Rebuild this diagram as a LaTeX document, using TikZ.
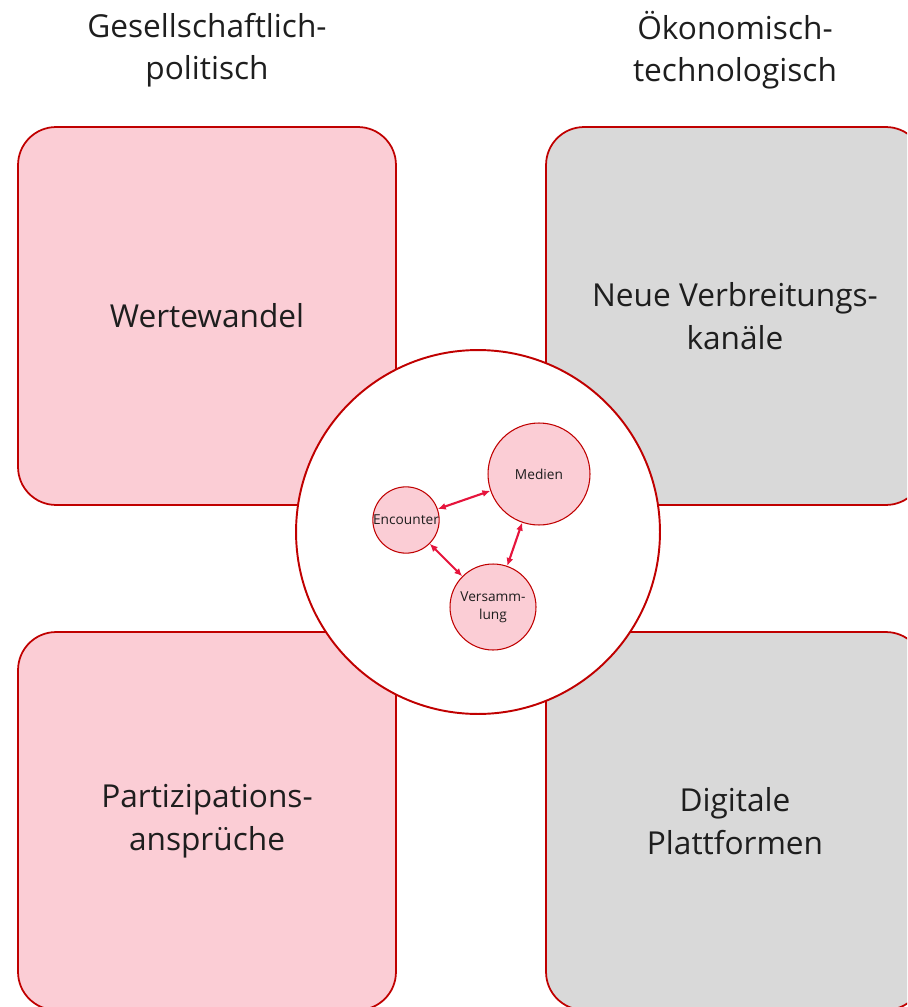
\documentclass[tikz,border=0pt]{standalone}
\usepackage{fontspec}
\setmainfont{Open Sans}
\usetikzlibrary{arrows.meta}

\definecolor{boxred}{RGB}{192,0,0}
\definecolor{boxpink}{RGB}{251,205,213}
\definecolor{boxgray}{RGB}{217,217,217}
\definecolor{arrowred}{RGB}{230,20,60}
\definecolor{txtgray}{RGB}{30,30,30}

\tikzset{
  field/.style={draw=boxred, line width=1pt, rounded corners=0.76cm,
    minimum width=7.56cm, minimum height=7.56cm, align=center,
    text=txtgray, font=\fontsize{18}{24.5}\selectfont},
  pinkfield/.style={field, fill=boxpink},
  grayfield/.style={field, fill=boxgray},
  heading/.style={align=center, text=txtgray, font=\fontsize{18}{24}\selectfont},
  topic/.style={circle, draw=boxred, fill=boxpink, line width=0.6pt,
    inner sep=0pt, align=center, text=txtgray,
    font=\fontsize{7.8}{10.5}\selectfont},
  link/.style={arrows={Latex[length=4.5pt,width=4pt]-Latex[length=4.5pt,width=4pt]},
    draw=arrowred, line width=1.2pt}
}

\begin{document}
\begin{tikzpicture}[x=0.02cm,y=-0.02cm]
\useasboundingbox (0,0) rectangle (907,1007);
\clip (0,0) rectangle (907,1007);
% Überschriften
\node[heading] (gespol) at (207,50) {Gesellschaftlich-\\politisch};
\node[heading] (oektec) at (735,50) {Ökonomisch-\\technologisch};
% die vier Felder
\node[pinkfield] (werte) at (207,316) {Wertewandel};
\node[grayfield] (kanal) at (735,316) {Neue Verbreitungs-\\kanäle};
\node[pinkfield] (partiz) at (207,821) {Partizipations-\\ansprüche};
\node[grayfield] (plattf) at (735,821) {Digitale\\Plattformen};
% Kreis in der Mitte
\node[circle, draw=boxred, fill=white, line width=1.1pt,
  minimum size=7.28cm] (mitte) at (478,532) {};
\node[topic, minimum size=2.04cm] (medien) at (539,474) {Medien};
\node[topic, minimum size=1.32cm] (enc) at (406,520) {Encounter};
\node[topic, minimum size=1.72cm] (vers) at (493,607) {Versamm-\\lung};
% Pfeile
\draw[link] (enc) -- (medien);
\draw[link] (enc) -- (vers);
\draw[link] (vers) -- (medien);
\end{tikzpicture}
\end{document}
